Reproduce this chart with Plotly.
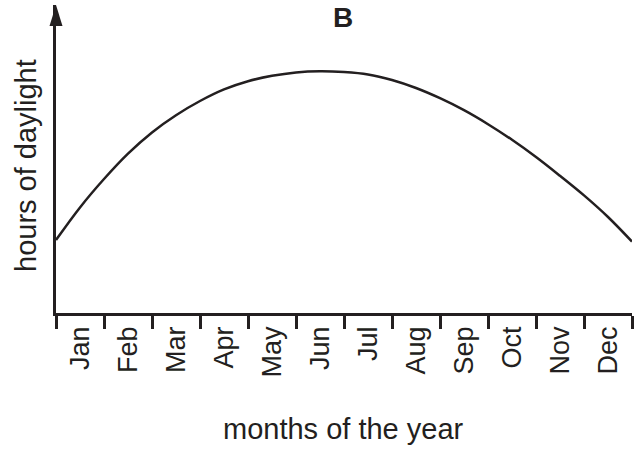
import plotly.graph_objects as go

# ---- data ----
months = ["Jan", "Feb", "Mar", "Apr", "May", "Jun",
          "Jul", "Aug", "Sep", "Oct", "Nov", "Dec"]
month_centers = [0.5, 1.5, 2.5, 3.5, 4.5, 5.5, 6.5, 7.5, 8.5, 9.5, 10.5, 11.5]
month_bounds = [0, 1, 2, 3, 4, 5, 6, 7, 8, 9, 10, 11, 12]

# position along the year (in months) and relative hours of daylight
curve_x = [0, 0.5, 1, 1.5, 2, 2.5, 3, 3.5, 4, 4.5, 5, 5.5, 6,
           6.5, 7, 7.5, 8, 8.5, 9, 9.5, 10, 10.5, 11, 11.5, 12]
daylight = [3.65, 5.28, 6.70, 7.97, 9.03, 9.89, 10.60, 11.18, 11.59, 11.86,
            12.03, 12.09, 12.05, 11.93, 11.65, 11.25, 10.74, 10.14, 9.44,
            8.66, 7.80, 6.86, 5.88, 4.80, 3.57]

INK = "#231f20"
FONT = "Liberation Sans, Arial, Helvetica, sans-serif"

fig = go.Figure()
fig.add_trace(go.Scatter(
    x=curve_x, y=daylight, mode="lines",
    line=dict(color=INK, width=2.5, shape="spline", smoothing=1.0),
    hoverinfo="skip", showlegend=False,
))

fig.update_layout(
    width=644, height=450,
    margin=dict(l=56, r=12, t=5, b=137),
    paper_bgcolor="white", plot_bgcolor="white",
    font=dict(family=FONT, color=INK),
    showlegend=False,
    xaxis=dict(
        range=[0, 12], showgrid=False, zeroline=False,
        showline=True, linecolor=INK, linewidth=2.5,
        tickmode="array", tickvals=month_centers, ticktext=months,
        ticks="", tickangle=-90, ticklabelstandoff=0,
        tickfont=dict(size=27, family=FONT, color=INK),
        minor=dict(tickmode="array", tickvals=month_bounds, ticks="outside",
                   ticklen=13, tickwidth=2.5, tickcolor=INK, showgrid=False),
    ),
    yaxis=dict(
        range=[0, 15.4], showgrid=False, zeroline=False,
        showline=True, linecolor=INK, linewidth=2.5,
        showticklabels=False, ticks="",
    ),
    shapes=[dict(
        type="path", xref="paper", yref="paper",
        xsizemode="pixel", ysizemode="pixel", xanchor=0, yanchor=1,
        path="M-6.5,-21 L6.5,-21 L0,0 Z",
        fillcolor=INK, line=dict(width=0),
    )],
    annotations=[
        dict(text="<b>B</b>", xref="paper", yref="paper",
             x=(343 - 56) / 576, y=(313 - 17) / 308,
             xanchor="center", yanchor="middle", showarrow=False,
             font=dict(size=28, family=FONT, color=INK)),
        dict(text="hours of daylight", xref="paper", yref="paper",
             x=(26 - 56) / 576, y=(313 - 166) / 308, textangle=-90,
             xanchor="center", yanchor="middle", showarrow=False,
             font=dict(size=29, family=FONT, color=INK)),
        dict(text="months of the year", xref="paper", yref="paper",
             x=(343 - 56) / 576, y=(313 - 429) / 308,
             xanchor="center", yanchor="middle", showarrow=False,
             font=dict(size=29, family=FONT, color=INK)),
    ],
)

fig.write_html("out.html",
               config={"displayModeBar": False},
               post_script="document.body.style.margin='0px';document.body.style.overflow='hidden';")
